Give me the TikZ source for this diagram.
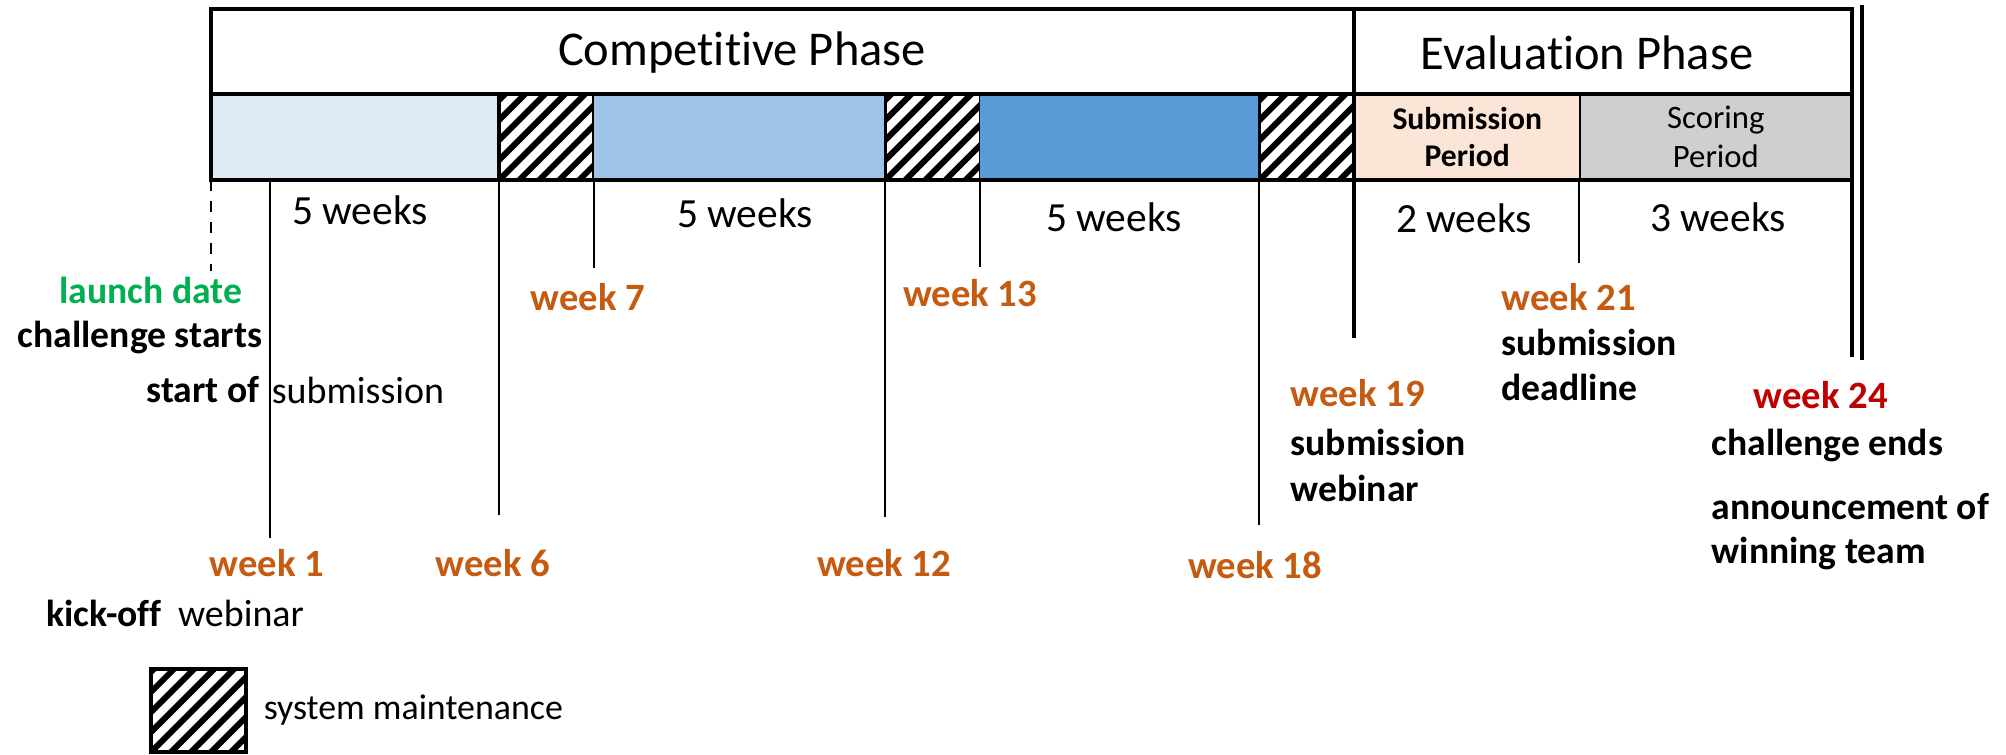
\documentclass[tikz,border=0pt]{standalone}
\usepackage{fontspec}
\setmainfont{Carlito}[Ligatures=NoCommon]
\usetikzlibrary{positioning}

\definecolor{blueA}{HTML}{DEEBF7}
\definecolor{blueB}{HTML}{9DC3E6}
\definecolor{blueC}{HTML}{5B9BD5}
\definecolor{peach}{HTML}{FBE5D6}
\definecolor{scoregray}{HTML}{D0CECE}
\definecolor{wkorange}{HTML}{C55A11}
\definecolor{launchgreen}{HTML}{00B050}
\definecolor{endred}{HTML}{C00000}

\tikzset{
  seg/.style={minimum height=0.86cm, inner sep=0pt, outer sep=0pt, align=center},
  hatched/.style={seg, minimum width=0.95cm, draw, line width=1pt, fill=white,
    path picture={
      \foreach \k in {-6,...,6}
        \draw[line width=1.7pt] ([xshift=\k*0.2cm]path picture bounding box.south west) -- ++(1.6cm,1.6cm);
    }},
}

\begin{document}
\begin{tikzpicture}[x=0.01cm, y=-0.01cm, inner sep=0pt,
  frame/.style={line width=0.9pt},
  tick/.style={line width=0.7pt},
  title/.style={font=\fontsize{13.8}{16}\selectfont},
  dur/.style={font=\fontsize{11.8}{14}\selectfont},
  wk/.style={font=\fontsize{11}{13}\selectfont\bfseries, text=wkorange},
  note/.style={font=\fontsize{10.7}{13}\selectfont\bfseries},
  notereg/.style={font=\fontsize{10.8}{13}\selectfont}]
\useasboundingbox (0,0) rectangle (2006,755);

% bar segments
\node[seg, fill=blueA, minimum width=2.88cm, anchor=north west] (p1) at (211,94) {};
\node[hatched, right=0pt of p1] (m1) {};
\node[seg, fill=blueB, minimum width=2.91cm, right=0pt of m1] (p2) {};
\node[hatched, right=0pt of p2] (m2) {};
\node[seg, fill=blueC, minimum width=2.79cm, right=0pt of m2] (p3) {};
\node[hatched, right=0pt of p3] (m3) {};
\node[seg, fill=peach, minimum width=2.25cm, right=0pt of m3,
  font=\fontsize{9}{10.8}\selectfont\bfseries] (subm) {Submission\\Period};
\node[seg, fill=scoregray, minimum width=2.72cm, right=0pt of subm,
  font=\fontsize{9.3}{11.2}\selectfont] (scor) {Scoring\\Period};

% frame
\draw[frame] (211,9) rectangle (1852,180);
\draw[frame] (211,94) -- (1852,94);
\draw[frame] (1354,9) -- (1354,338);
\draw[frame] (1852,180) -- (1852,357);
\draw[frame] (1862,5) -- (1862,360);
\draw[tick] (subm.north east) -- (subm.south east);

% ticks
\draw[tick, dashed] (211,180) -- (211,271);
\foreach \x/\y in {270/538, 499/515, 594/268, 885/517, 980/267, 1259/525, 1579/263}
  \draw[tick] (\x,180) -- (\x,\y);

% phases
\node[title] (tcomp) at (742,53) {Competitive Phase};
\node[title] (teval) at (1587,53) {Evaluation Phase};

% durations
\node[dur] (d1) at (360,210) {5 weeks};
\node[dur] (d2) at (745,213) {5 weeks};
\node[dur] (d3) at (1114,217) {5 weeks};
\node[dur] (d4) at (1464,218) {2 weeks};
\node[dur] (d5) at (1718,217) {3 weeks};

% weeks
\node[wk] (w1) at (267,563) {week 1};
\node[wk] (w6) at (493,563) {week 6};
\node[wk] (w7) at (588,297) {week 7};
\node[wk] (w12) at (884,563) {week 12};
\node[wk] (w13) at (970,293) {week 13};
\node[wk] (w18) at (1255,565) {week 18};
\node[wk, anchor=west] (w19) at (1290,393) {week 19};
\node[wk, anchor=west] (w21) at (1501,297) {week 21};
\node[wk, anchor=west, text=endred] (w24) at (1753,395) {week 24};

% notes
\node[note, text=launchgreen] (launch) at (151,290) {launch date};
\node[note] (cstart) at (140,337) {challenge starts};
\node[note] (sof) at (203,390) {start of};
\node[notereg] (sub) at (358,390) {submission};
\node[note] (kick) at (104,613) {kick-off};
\node[notereg] (kweb) at (241,613) {webinar};
\node[note, anchor=west] (w19a) at (1290,442) {submission};
\node[note, anchor=west] (w19b) at (1290,488) {webinar};
\node[note, anchor=west] (w21a) at (1501,342) {submission};
\node[note, anchor=west] (w21b) at (1501,387) {deadline};
\node[note, anchor=west] (w24a) at (1711,445) {challenge ends};
\node[note, anchor=west] (w24b) at (1711,507) {announcement of};
\node[note, anchor=west] (w24c) at (1711,553) {winning team};

% legend
\node[hatched, minimum height=0.83cm, anchor=north west] (key) at (151,669) {};
\node[font=\fontsize{10.2}{12}\selectfont, right=0.17cm of key] (keylbl) {system maintenance};
\end{tikzpicture}
\end{document}
